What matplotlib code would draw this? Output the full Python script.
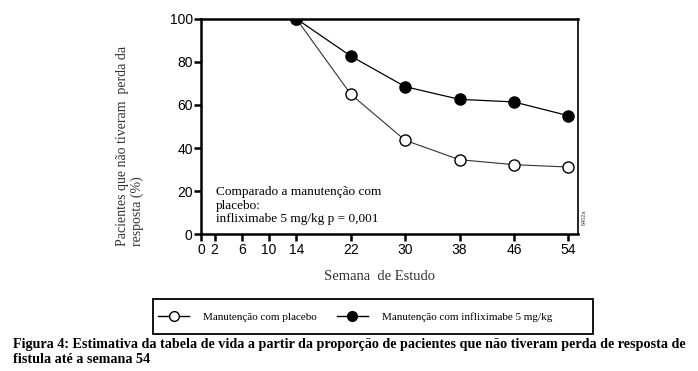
import matplotlib.pyplot as plt
from matplotlib.lines import Line2D
from matplotlib.patches import Rectangle

# data
weeks = [14, 22, 30, 38, 46, 54]
placebo = [100, 65, 43.6, 34.6, 32.3, 31.2]
infliximab = [100, 82.7, 68.5, 62.6, 61.4, 55]
xticks = [0, 2, 6, 10, 14, 22, 30, 38, 46, 54]
yticks = [0, 20, 40, 60, 80, 100]

serif = 'Liberation Serif'
sans = 'Liberation Sans'

fig = plt.figure(figsize=(6.98, 3.71), dpi=100)
ax = fig.add_axes([0.288, 0.3685, 0.54, 0.581])

ax.plot(weeks, placebo, color='#333333', lw=0.8, marker='o', ms=8,
        mfc='white', mec='black', mew=1.0, zorder=3)
ax.plot(weeks, infliximab, color='black', lw=0.9, marker='o', ms=8,
        mfc='black', mec='black', zorder=4)

ax.set_xlim(0, 55.4)
ax.set_ylim(0, 100)
ax.set_xticks(xticks)
ax.set_yticks(yticks)
for s in ['left', 'bottom', 'top']:
    ax.spines[s].set_linewidth(1.8)
ax.spines['right'].set_linewidth(1.2)
ax.tick_params(direction='out', length=5, width=1.8, labelsize=10, pad=1)
for lab in ax.get_xticklabels() + ax.get_yticklabels():
    lab.set_family(sans)

ax.text(2.2, 22.5, 'Comparado a manutenção com\nplacebo:\ninfliximabe 5 mg/kg p = 0,001',
        family=serif, fontsize=9.5, va='top', ha='left', linespacing=1.2)
ax.text(1.01, 0.08, '6402a', transform=ax.transAxes, rotation=90,
        fontsize=4, family=sans, va='center', ha='left', color='#444444')

fig.text(0.186, 0.606, 'Pacientes que não tiveram  perda da\nresposta (%)',
         rotation=90, family=serif, fontsize=10, ha='center', va='center',
         multialignment='left', color='#333333')
fig.text(0.543, 0.256, 'Semana  de Estudo', family=serif, fontsize=10.5,
         ha='center', va='center', color='#333333')

# legend box
fig.patches.append(Rectangle((0.2192, 0.0997), 0.630, 0.0943, transform=fig.transFigure,
                             fill=False, edgecolor='black', linewidth=1.3))
handles = [
    Line2D([], [], color='black', lw=1, marker='o', ms=7, mfc='white', mec='black'),
    Line2D([], [], color='black', lw=1, marker='o', ms=7, mfc='black', mec='black'),
]
leg = fig.legend(handles, ['Manutenção com placebo', 'Manutenção com infliximabe 5 mg/kg'],
                 loc='center left', bbox_to_anchor=(158 / 698, 1 - 317 / 371), ncol=2,
                 prop={'family': serif, 'size': 8}, frameon=False,
                 handlelength=2.8, columnspacing=1.8, borderpad=0, borderaxespad=0,
                 handletextpad=1.25)

fig.text(0.018, 0.09, 'Figura 4: Estimativa da tabela de vida a partir da proporção de '
         'pacientes que não tiveram perda de resposta de\nfistula até a semana 54',
         family=serif, fontweight='bold', fontsize=10.2, ha='left', va='top',
         linespacing=1.2)

fig.savefig('out.png', dpi=100)
